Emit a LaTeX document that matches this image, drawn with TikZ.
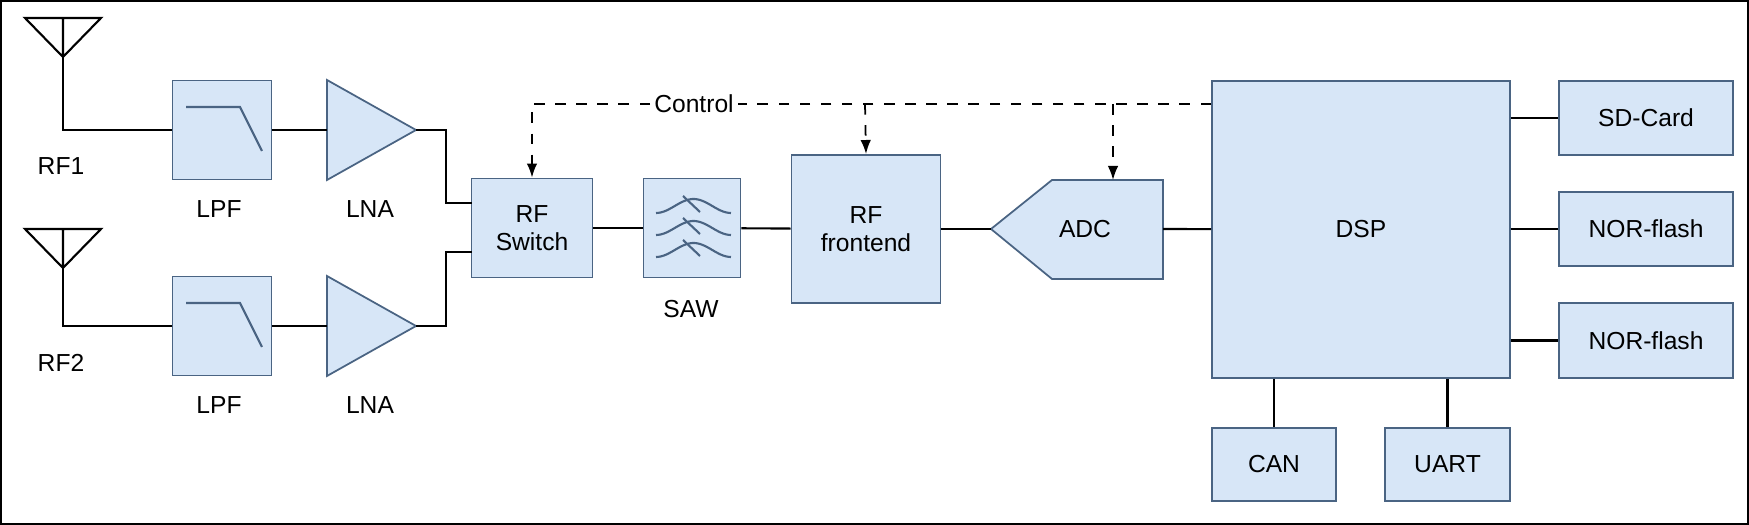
\documentclass[tikz,border=0pt]{standalone}
\usepackage{fontspec}
\setmainfont{Liberation Sans}
\usetikzlibrary{arrows.meta}
\definecolor{blkfill}{HTML}{D7E6F7}
\definecolor{blkline}{HTML}{4A6483}
\begin{document}
\begin{tikzpicture}[x=0.01cm, y=-0.01cm, font=\fontsize{7}{8}\selectfont,
  blk/.style={draw=blkline, fill=blkfill, line width=0.5pt, inner sep=0pt, align=center},
  wire/.style={line width=0.6pt},
  ctrl/.style={dashed, line width=0.5pt, -{Latex[length=4pt,width=3pt]}}]
  \useasboundingbox (0,0) rectangle (1749,525);
  \draw[line width=0.6pt] (0.5,0.5) rectangle (1748.5,524.5);
  % antennas
  \foreach \n/\y in {1/18, 2/229} {
    \coordinate (ant\n) at (63,\y+39);
    \draw[wire] (25,\y) -- (101,\y) -- (ant\n) -- cycle (63,\y) -- (ant\n);
  }
  \node (rf1) at (61,166) {RF1};
  \node (rf2) at (61,363) {RF2};
  % filters and amplifiers
  \foreach \n/\y in {1/130, 2/326} {
    \node[blk, minimum width=0.99cm, minimum height=0.99cm] (lpf\n) at (222,\y) {};
    \draw[blkline, line width=0.6pt] (186,\y-23) -- (240,\y-23) -- (262,\y+21);
    \node (lpfl\n) at (219,\y+79) {LPF};
    \draw[blk] (327,\y-50) -- (416,\y) coordinate (lna\n) -- (327,\y+50) -- cycle;
    \coordinate (lnain\n) at (327,\y);
    \node (lnal\n) at (370,\y+79) {LNA};
    \draw[wire] (ant\n) |- (lpf\n.west);
    \draw[wire] (lpf\n.east) -- (lnain\n);
  }
  \node[blk, minimum width=1.21cm, minimum height=0.99cm] (sw) at (532,228) {RF\\Switch};
  \draw[wire] (lna1) -- (446,130) |- (472,203);
  \draw[wire] (lna2) -- (446,326) |- (472,252);
  \node[blk, minimum width=0.97cm, minimum height=0.99cm] (saw) at (692,228) {};
  \foreach \dy in {-22, 0, 22} {
    \draw[blkline, line width=0.6pt, domain=0:1, samples=30, smooth]
      plot ({656+75*\x}, {228+\dy+7*sin(360*\x+90)});
    \draw[blkline, line width=0.6pt] (683,228+\dy-10) -- (700,228+\dy+6);
  }
  \node (sawl) at (691,309) {SAW};
  \node[blk, minimum width=1.49cm, minimum height=1.48cm] (fe) at (866,229) {RF\\frontend};
  \draw[blk] (991,229) coordinate (adcin) -- (1052,180) -- (1163,180)
    -- (1163,279) -- (1052,279) -- cycle;
  \coordinate (adcout) at (1163,229);
  \node (adc) at (1085,229) {ADC};
  \node[blk, minimum width=2.98cm, minimum height=2.97cm] (dsp) at (1361,229.5) {DSP};
  \node[blk, minimum width=1.74cm, minimum height=0.74cm] (sd) at (1646,118) {SD-Card};
  \node[blk, minimum width=1.74cm, minimum height=0.74cm] (nor1) at (1646,229) {NOR-flash};
  \node[blk, minimum width=1.74cm, minimum height=0.75cm] (nor2) at (1646,340.5) {NOR-flash};
  \node[blk, minimum width=1.24cm, minimum height=0.73cm] (can) at (1274,464.5) {CAN};
  \node[blk, minimum width=1.25cm, minimum height=0.73cm] (uart) at (1447.5,464.5) {UART};
  \draw[wire] (sw) -- (saw);
  \draw[wire] (saw) -- (fe);
  \draw[wire] (fe) -- (adcin);
  \draw[wire] (adcout) -- (dsp);
  \draw[wire] (dsp.east |- sd) -- (sd);
  \draw[wire] (dsp.east |- nor1) -- (nor1);
  \draw[wire] (dsp.east |- nor2) -- (nor2);
  \draw[wire] (can.north |- dsp.south) -- (can);
  \draw[wire] (uart.north |- dsp.south) -- (uart);
  % control bus
  \node[inner sep=1pt] (ctl) at (694,104) {Control};
  \draw[dashed, line width=0.5pt] (dsp.west |- ctl) -- (ctl.east);
  \draw[ctrl] (ctl.west) -| (sw.north);
  \draw[ctrl] (865,104) -- (fe.north);
  \draw[ctrl] (1113,104) -- (1113,180);
\end{tikzpicture}
\end{document}
